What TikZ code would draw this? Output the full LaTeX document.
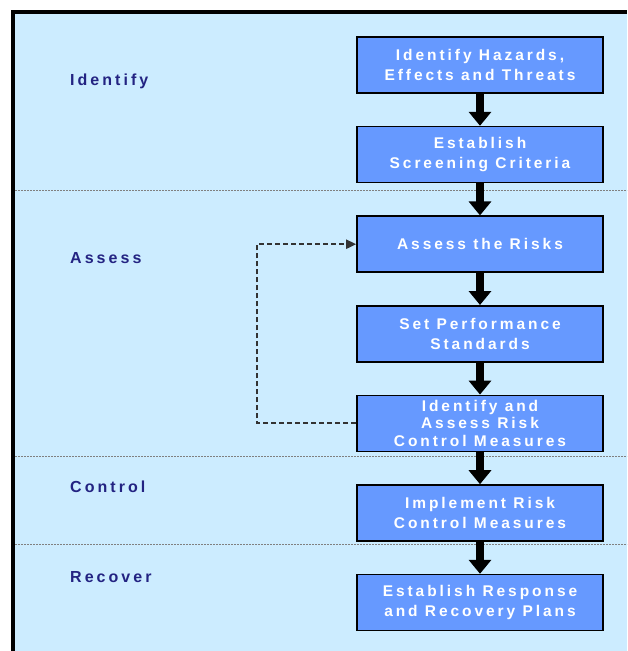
\documentclass[tikz,border=0pt]{standalone}
\usepackage{fontspec}
\newfontfamily\stepfont{Liberation Sans}[LetterSpace=19]
\usetikzlibrary{arrows.meta,positioning}

\tikzset{
  stepbox/.style={draw=black, line width=1.6pt, fill=boxblue, text=white,
    minimum width=246pt, minimum height=56pt, inner sep=0pt, align=center,
    font=\stepfont\bfseries\fontsize{15.5}{19.5}\selectfont},
  phase/.style={anchor=west, inner sep=0pt, text=phasenavy,
    font=\stepfont\bfseries\fontsize{16}{18}\selectfont},
  flowarrow/.style={line width=8pt, -{Triangle[width=22pt,length=14pt]}},
  feedback/.style={line width=2pt, black!80, dash pattern=on 5pt off 3pt,
    -{Triangle[width=9pt,length=10pt]}},
  sepline/.style={line width=1pt, black!50, dash pattern=on 2pt off 1pt}
}

\begin{document}
\begin{tikzpicture}[x=1pt,y=-1pt]
	\definecolor{bgblue}{RGB}{204,236,255}
	\definecolor{boxblue}{RGB}{102,153,255}
	\definecolor{phasenavy}{RGB}{35,35,130}
	\useasboundingbox (0,0) rectangle (627,651);

	% background and frame
	\fill[bgblue] (13,12) rectangle (627,651);
	\draw[line width=4pt] (13,651) -- (13,12) -- (627,12);

	% phase separators
	\draw[sepline] (15,190) -- (627,190);
	\draw[sepline] (15,456) -- (627,456);
	\draw[sepline] (15,544) -- (627,544);

	% phase names
	\node[phase] (identify) at (70,81) {Identify};
	\node[phase] (assess) at (70,258) {Assess};
	\node[phase] (control) at (70,487) {Control};
	\node[phase] (recover) at (70,577) {Recover};

	% steps
	\node[stepbox] (hazards) at (480,65) {Identify Hazards,\\Effects and Threats};
	\node[stepbox, below=32pt of hazards] (criteria) {Establish\\Screening Criteria};
	\node[stepbox, below=32pt of criteria] (risks) {Assess the Risks};
	\node[stepbox, below=32pt of risks] (standards) {Set Performance\\Standards};
	\node[stepbox, below=32pt of standards, font=\stepfont\bfseries\fontsize{15.5}{17.5}\selectfont] (measures) {Identify and\\Assess Risk\\Control Measures};
	\node[stepbox, below=32pt of measures] (implement) {Implement Risk\\Control Measures};
	\node[stepbox, below=32pt of implement] (recovery) {Establish Response\\and Recovery Plans};

	\draw[flowarrow] (hazards) -- (criteria);
	\draw[flowarrow] (criteria) -- (risks);
	\draw[flowarrow] (risks) -- (standards);
	\draw[flowarrow] (standards) -- (measures);
	\draw[flowarrow] (measures) -- (implement);
	\draw[flowarrow] (implement) -- (recovery);

	% loop back
	\draw[feedback] (measures.west) -- ++(-99,0) |- (risks.west);
\end{tikzpicture}
\end{document}
